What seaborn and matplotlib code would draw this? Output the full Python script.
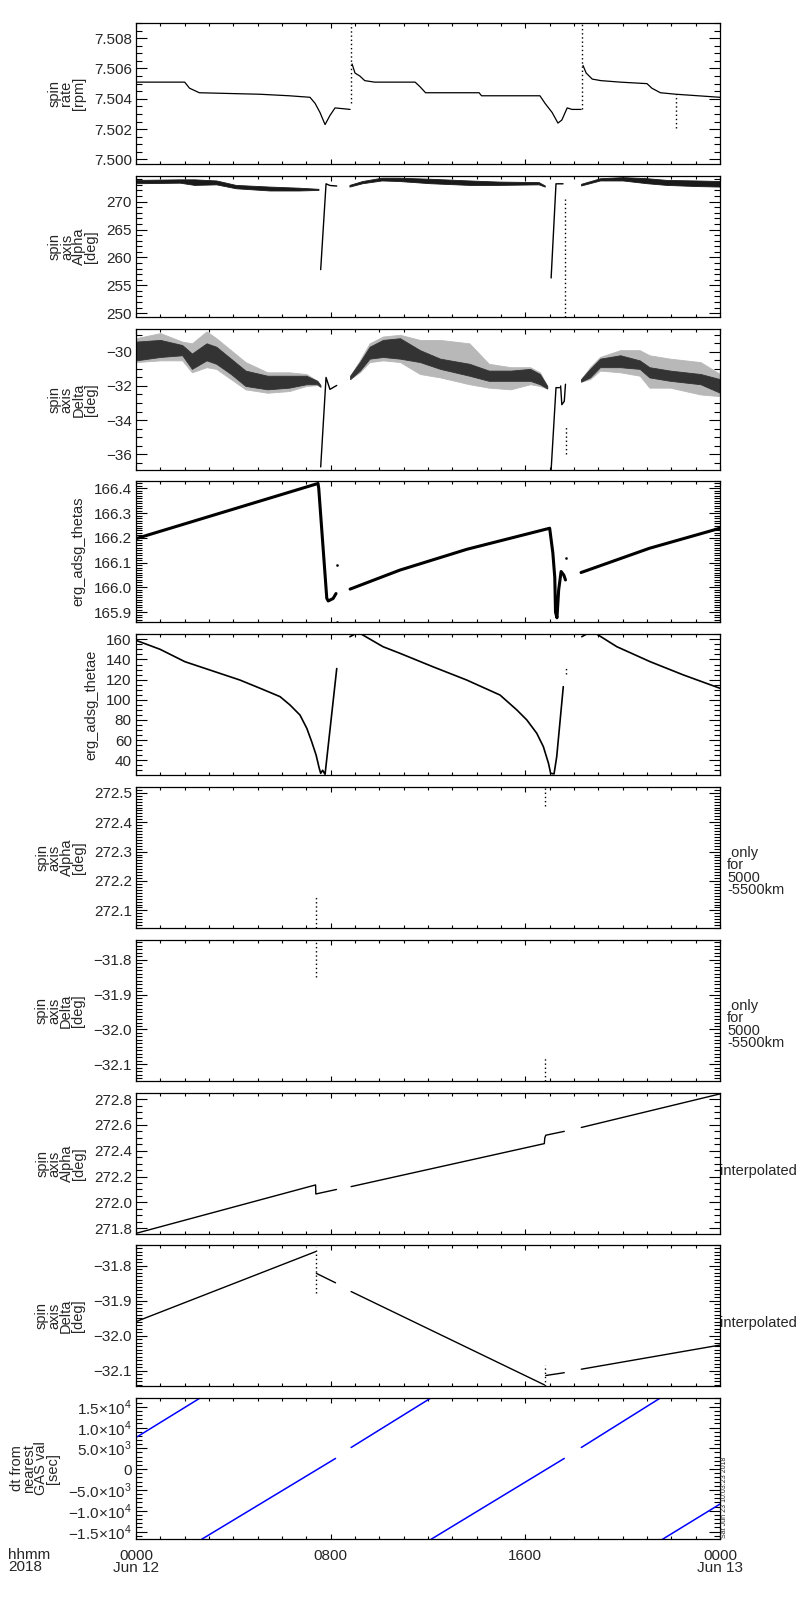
import numpy as np
import pandas as pd
import matplotlib
matplotlib.use("Agg")
import matplotlib.pyplot as plt
import seaborn as sns
from matplotlib.ticker import MultipleLocator, FixedLocator, FixedFormatter, FuncFormatter, NullFormatter

# ---------------- data (time in hours of Jun 12) ----------------
# panel 1: spin rate [rpm]
rate_t = [[0.0, 2.0, 2.2, 2.6, 5.1, 6.3, 7.15, 7.36, 7.56, 7.77, 7.97, 8.18, 8.8],
          [8.88, 9.0, 9.2, 9.4, 9.8, 11.47, 11.67, 11.9, 14.1, 14.2, 16.6, 16.81, 17.1, 17.34, 17.5, 17.72, 17.92, 18.29],
          [18.37, 18.5, 18.75, 19.1, 19.9, 21.0, 21.2, 21.55, 22.2, 24.0]]
rate_v = [[7.5051, 7.5051, 7.5047, 7.5044, 7.5043, 7.5042, 7.5041, 7.5037, 7.5031, 7.5023, 7.5029, 7.5034, 7.5033],
          [7.5063, 7.5057, 7.5055, 7.5052, 7.5051, 7.5051, 7.5048, 7.5044, 7.5044, 7.5042, 7.5042, 7.5037, 7.5031,
           7.5024, 7.5026, 7.5034, 7.5033, 7.5033],
          [7.5062, 7.5057, 7.5053, 7.5052, 7.5051, 7.5050, 7.5047, 7.5044, 7.5043, 7.5041]]
rate_spk_t = [8.84, 18.33, 22.2]
rate_spk_lo = [7.5037, 7.5033, 7.5021]
rate_spk_hi = [7.5092, 7.5092, 7.5043]

# panel 2: spin axis Alpha [deg]
alpha_band_t = [[0.0, 1.8, 2.4, 3.3, 4.1, 5.5, 6.7, 7.5],
                [8.77, 9.3, 10.1, 10.8, 12.1, 13.7, 14.9, 16.55, 16.8],
                [18.29, 19.07, 20.0, 21.0, 21.8, 23.0, 24.0]]
alpha_band_hi = [[273.9, 274.0, 274.0, 273.8, 273.0, 272.7, 272.5, 272.3],
                 [273.0, 273.7, 274.3, 274.3, 274.1, 273.8, 273.6, 273.5, 272.9],
                 [273.2, 274.2, 274.4, 274.2, 273.9, 273.8, 273.7]]
alpha_band_lo = [[273.3, 273.4, 273.0, 273.1, 272.4, 272.0, 272.0, 272.1],
                 [272.7, 273.3, 273.8, 273.7, 273.3, 273.0, 273.0, 273.1, 272.7],
                 [272.9, 273.8, 273.8, 273.3, 273.0, 272.8, 272.7]]
alpha_t = [[7.59, 7.81, 7.97, 8.25], [17.06, 17.26, 17.55]]
alpha_v = [[257.8, 273.2, 272.9, 272.8], [256.3, 273.2, 273.2]]
alpha_spk_t = [17.63]
alpha_spk_lo = [249.3]
alpha_spk_hi = [270.5]

# panel 3: spin axis Delta [deg]
delta_band_t = [[0.0, 1.0, 1.9, 2.3, 2.9, 3.3, 3.9, 4.5, 5.4, 6.3, 7.0, 7.45, 7.58],
                [8.8, 9.2, 9.6, 10.15, 10.85, 11.67, 12.5, 13.7, 14.5, 15.4, 16.2, 16.6, 16.9],
                [18.29, 18.66, 19.07, 19.9, 20.7, 21.1, 21.95, 23.2, 24.0]]
delta_core_hi = [[-29.4, -29.3, -29.6, -30.1, -29.5, -29.7, -30.4, -31.1, -31.4, -31.4, -31.4, -31.7, -31.95],
                 [-31.4, -30.6, -29.7, -29.3, -29.2, -29.9, -30.4, -30.7, -31.1, -31.1, -31.0, -31.3, -32.0],
                 [-31.6, -31.0, -30.4, -30.2, -30.5, -30.9, -31.1, -31.3, -31.6]]
delta_core_lo = [[-30.5, -30.3, -30.2, -31.0, -30.5, -30.7, -31.3, -32.0, -32.2, -32.1, -31.9, -31.9, -32.05],
                 [-31.6, -31.1, -30.4, -30.3, -30.4, -30.6, -31.0, -31.4, -31.7, -31.7, -31.7, -31.9, -32.15],
                 [-31.75, -31.5, -30.9, -30.9, -31.0, -31.5, -31.7, -31.9, -32.4]]
delta_scat_hi = [[-29.2, -28.9, -29.4, -29.5, -28.8, -29.2, -29.9, -30.6, -31.2, -31.2, -31.3, -31.7, -31.95],
                 [-31.4, -30.5, -29.5, -29.1, -29.0, -29.3, -29.3, -29.5, -30.7, -30.9, -30.9, -31.2, -32.0],
                 [-31.6, -30.9, -30.3, -29.9, -29.9, -30.2, -30.4, -30.6, -31.3]]
delta_scat_lo = [[-30.6, -30.5, -30.5, -31.2, -30.9, -31.0, -31.6, -32.2, -32.4, -32.3, -32.0, -31.95, -32.05],
                 [-31.6, -31.2, -30.6, -30.5, -30.6, -31.3, -31.5, -31.9, -32.1, -32.2, -31.9, -32.0, -32.15],
                 [-31.75, -31.6, -31.1, -31.2, -31.4, -32.1, -32.1, -32.5, -32.6]]
delta_t = [[7.59, 7.81, 7.97, 8.25], [17.06, 17.26, 17.4], [17.45, 17.5, 17.6, 17.65]]
delta_v = [[-36.75, -31.5, -32.2, -31.97], [-36.93, -32.1, -32.1], [-32.0, -33.1, -32.9, -31.9]]
delta_spk_t = [17.66]
delta_spk_lo = [-36.0]
delta_spk_hi = [-34.3]

# panel 4: erg_adsg_thetas
thetas_t = [[0.0, 7.48, 7.51, 7.84, 7.9, 8.1, 8.22],
            [8.8, 10.85, 13.6, 17.0, 17.13, 17.21, 17.24, 17.3, 17.37, 17.47, 17.58, 17.65],
            [18.29, 21.1, 24.0]]
thetas_v = [[166.197, 166.42, 166.40, 165.956, 165.945, 165.955, 165.975],
            [165.993, 166.07, 166.154, 166.239, 166.14, 166.04, 165.90, 165.877, 165.99, 166.064, 166.05, 166.03],
            [166.06, 166.158, 166.239]]
thetas_dot_t = [8.27, 8.27, 17.67]
thetas_dot_v = [166.09, 165.86, 166.12]

# panel 5: erg_adsg_thetae
thetae_t = [[0.0, 0.99, 2.01, 3.04, 4.27, 5.1, 5.92, 6.33, 6.74, 7.02, 7.22, 7.40, 7.53, 7.59, 7.67, 7.77, 8.25],
            [8.79, 9.0, 9.25, 10.15, 10.85, 12.2, 13.59, 14.96, 15.65, 16.06, 16.47, 16.74, 16.95, 17.04, 17.18, 17.29, 17.56],
            [18.32, 18.52, 18.93, 19.76, 21.13, 22.5, 24.0]]
thetae_v = [[159.0, 150.1, 137.8, 129.5, 119.6, 111.4, 103.1, 94.8, 84.8, 71.6, 58.4, 45.2, 32.0, 27.0, 30.0, 26.0, 131.0],
            [162.6, 165.3, 165.3, 152.7, 146.1, 132.8, 119.6, 104.7, 89.9, 80.0, 66.7, 53.5, 37.0, 27.0, 26.4, 43.5, 113.0],
            [162.6, 165.3, 165.3, 152.7, 137.8, 124.6, 111.4]]
thetae_spk_t = [17.66]
thetae_spk_lo = [126.0]
thetae_spk_hi = [132.0]

# panel 6 / 7: spin axis only for 5000-5500km
oalpha_spk_t = [7.38, 16.8]
oalpha_spk_lo = [272.04, 272.454]
oalpha_spk_hi = [272.146, 272.523]
odelta_spk_t = [7.38, 16.8]
odelta_spk_lo = [-31.85, -32.148]
odelta_spk_hi = [-31.745, -32.083]

# panel 8 / 9: interpolated spin axis
ialpha_t = [[0.0, 7.38, 7.39, 8.24], [8.84, 16.78, 16.8, 16.84, 17.6], [18.3, 24.0]]
ialpha_v = [[271.76, 272.135, 272.065, 272.1], [272.122, 272.455, 272.50, 272.52, 272.55], [272.58, 272.84]]
idelta_t = [[0.0, 7.38], [7.41, 8.2], [8.84, 16.79], [16.84, 17.6], [18.3, 24.0]]
idelta_v = [[-31.959, -31.759], [-31.821, -31.848], [-31.873, -32.14], [-32.113, -32.105], [-32.095, -32.026]]
idelta_spk_t = [7.38, 16.8]
idelta_spk_lo = [-31.876, -32.143]
idelta_spk_hi = [-31.745, -32.083]

# panel 10: dt from nearest GAS val [sec]
dt_t = [[0.0, 2.69], [2.69, 8.2], [8.84, 12.09], [12.09, 17.6], [18.3, 21.52], [21.6, 24.0]]
dt_v = [[7600, 17300], [-16900, 2570], [5200, 17000], [-17000, 2570], [5200, 17000], [-17000, -8400]]
dt_ticks = [-15000, -10000, -5000, 0, 5000, 10000, 15000]
dt_labels = ["−1.5×10$^4$", "−1.0×10$^4$", "−5.0×10$^3$", "0",
             "5.0×10$^3$", "1.0×10$^4$", "1.5×10$^4$"]

x_ticks = [0, 8, 16, 24]
x_labels = ["0000\nJun 12", "0800", "1600", "0000\nJun 13"]

# ---------------- style ----------------
sns.set_style("ticks")
plt.rcParams['font.family'] = ['Liberation Sans', 'DejaVu Sans']
plt.rcParams['mathtext.fontset'] = 'custom'
plt.rcParams['mathtext.rm'] = 'Liberation Sans'
plt.rcParams['axes.linewidth'] = 0.9


def seg_frame(ts, vs):
    rows = []
    for k, (t, v) in enumerate(zip(ts, vs)):
        for a, b in zip(t, v):
            rows.append((k, a, b))
    return pd.DataFrame(rows, columns=["seg", "t", "v"])


def draw_lines(ax, ts, vs, color="black", lw=1.0, ls="-"):
    df = seg_frame(ts, vs)
    sns.lineplot(data=df, x="t", y="v", units="seg", estimator=None, sort=False,
                 color=color, lw=lw, linestyle=ls, ax=ax, legend=False)


def draw_spikes(ax, t, lo, hi):
    ts = [[a, a] for a in t]
    vs = [[l, h] for l, h in zip(lo, hi)]
    draw_lines(ax, ts, vs, lw=1.0, ls=(0, (1, 2)))


def draw_band(ax, ts, lo, hi, color):
    for t, l, h in zip(ts, lo, hi):
        ax.fill_between(t, l, h, color=color, lw=0.6, edgecolor=color)


def minus_fmt(fmt):
    return FuncFormatter(lambda v, p: (fmt % v).replace("-", "−"))


def setup(ax, ylim, major, minor, fmt, label):
    ax.set_xlim(0, 24)
    ax.set_ylim(*ylim)
    ax.xaxis.set_major_locator(FixedLocator(x_ticks))
    ax.xaxis.set_minor_locator(MultipleLocator(1))
    ax.xaxis.set_major_formatter(NullFormatter())
    if major is not None:
        ax.yaxis.set_major_locator(MultipleLocator(major))
        ax.yaxis.set_major_formatter(minus_fmt(fmt))
    ax.yaxis.set_minor_locator(MultipleLocator(minor))
    ax.tick_params(axis='both', which='both', direction='in', top=True, right=True,
                   labelsize=11, pad=3, width=0.8, color='black')
    ax.tick_params(axis='y', which='major', length=8)
    ax.tick_params(axis='y', which='minor', length=4.3)
    ax.tick_params(axis='x', which='major', length=3.5)
    ax.tick_params(axis='x', which='minor', length=2)
    ax.set_xlabel("")
    ax.set_ylabel(label, fontsize=10.5, linespacing=0.82, labelpad=6)
    for s in ax.spines.values():
        s.set_color('black')


fig = plt.figure(figsize=(8, 16), dpi=100)
tops = [23, 176, 329, 481, 634, 787, 940, 1093, 1245, 1398]
axes = [fig.add_axes([136 / 800, 1 - (tp + 141) / 1600, 584 / 800, 141 / 1600]) for tp in tops]

# 1 spin rate
ax = axes[0]
draw_lines(ax, rate_t, rate_v, lw=0.9)
draw_spikes(ax, rate_spk_t, rate_spk_lo, rate_spk_hi)
setup(ax, (7.4997, 7.5090), 0.002, 0.0005, "%.3f", "spin\nrate\n[rpm]")

# 2 spin axis alpha
ax = axes[1]
draw_band(ax, alpha_band_t, alpha_band_lo, alpha_band_hi, "0.1")
draw_lines(ax, alpha_t, alpha_v)
draw_spikes(ax, alpha_spk_t, alpha_spk_lo, alpha_spk_hi)
setup(ax, (249.3, 274.6), 5, 1, "%d", "spin\naxis\nAlpha\n[deg]")

# 3 spin axis delta
ax = axes[2]
draw_band(ax, delta_band_t, delta_scat_lo, delta_scat_hi, "0.72")
draw_band(ax, delta_band_t, delta_core_lo, delta_core_hi, "0.2")
draw_lines(ax, delta_t, delta_v)
draw_spikes(ax, delta_spk_t, delta_spk_lo, delta_spk_hi)
setup(ax, (-36.93, -28.66), 2, 0.5, "%d", "spin\naxis\nDelta\n[deg]")

# 4 thetas
ax = axes[3]
draw_lines(ax, thetas_t, thetas_v, lw=2.2)
sns.scatterplot(x=thetas_dot_t, y=thetas_dot_v, s=3, color="black", edgecolor=None, ax=ax)
setup(ax, (165.86, 166.43), 0.1, 0.01, "%.1f", "erg_adsg_thetas")

# 5 thetae
ax = axes[4]
draw_lines(ax, thetae_t, thetae_v, lw=1.2)
draw_spikes(ax, thetae_spk_t, thetae_spk_lo, thetae_spk_hi)
setup(ax, (25.3, 165.3), 20, 5, "%d", "erg_adsg_thetae")

# 6 alpha only 5000-5500km
ax = axes[5]
draw_spikes(ax, oalpha_spk_t, oalpha_spk_lo, oalpha_spk_hi)
setup(ax, (272.04, 272.52), 0.1, 0.01, "%.1f", "spin\naxis\nAlpha\n[deg]")
ax.text(1.012, 0.40, " only\nfor\n5000\n-5500km", transform=ax.transAxes, ha='left', va='center',
        fontsize=10.5, linespacing=0.85)

# 7 delta only 5000-5500km
ax = axes[6]
draw_spikes(ax, odelta_spk_t, odelta_spk_lo, odelta_spk_hi)
setup(ax, (-32.148, -31.743), 0.1, 0.01, "%.1f", "spin\naxis\nDelta\n[deg]")
ax.text(1.012, 0.40, " only\nfor\n5000\n-5500km", transform=ax.transAxes, ha='left', va='center',
        fontsize=10.5, linespacing=0.85)

# 8 interpolated alpha
ax = axes[7]
draw_lines(ax, ialpha_t, ialpha_v)
setup(ax, (271.755, 272.847), 0.2, 0.05, "%.1f", "spin\naxis\nAlpha\n[deg]")
ax.text(1.0, 0.45, "interpolated", transform=ax.transAxes, ha='left', va='center', fontsize=10.5)

# 9 interpolated delta
ax = axes[8]
draw_lines(ax, idelta_t, idelta_v)
draw_spikes(ax, idelta_spk_t, idelta_spk_lo, idelta_spk_hi)
setup(ax, (-32.143, -31.74), 0.1, 0.01, "%.1f", "spin\naxis\nDelta\n[deg]")
ax.text(1.0, 0.45, "interpolated", transform=ax.transAxes, ha='left', va='center', fontsize=10.5)

# 10 dt from nearest GAS val
ax = axes[9]
draw_lines(ax, dt_t, dt_v, color="#0000ff", lw=1.1)
setup(ax, (-16800, 17100), None, 1000, None, "dt from\nnearest\nGAS val\n[sec]")
ax.yaxis.set_major_locator(FixedLocator(dt_ticks))
ax.yaxis.set_major_formatter(FixedFormatter(dt_labels))
ax.xaxis.set_major_formatter(FixedFormatter(x_labels))
ax.tick_params(axis='x', which='major', labelsize=11, pad=7)
for lab in ax.get_xticklabels():
    lab.set_linespacing(0.85)

fig.text(8 / 800, 1 - 1548 / 1600, "hhmm\n2018", ha='left', va='top', fontsize=11, linespacing=0.85)
fig.text(725 / 800, 1 - 1538 / 1600, "Sat Jun 23 10:03:23 2018", rotation=90, ha='center', va='bottom',
         fontsize=5)

fig.savefig("out.png", dpi=100)
